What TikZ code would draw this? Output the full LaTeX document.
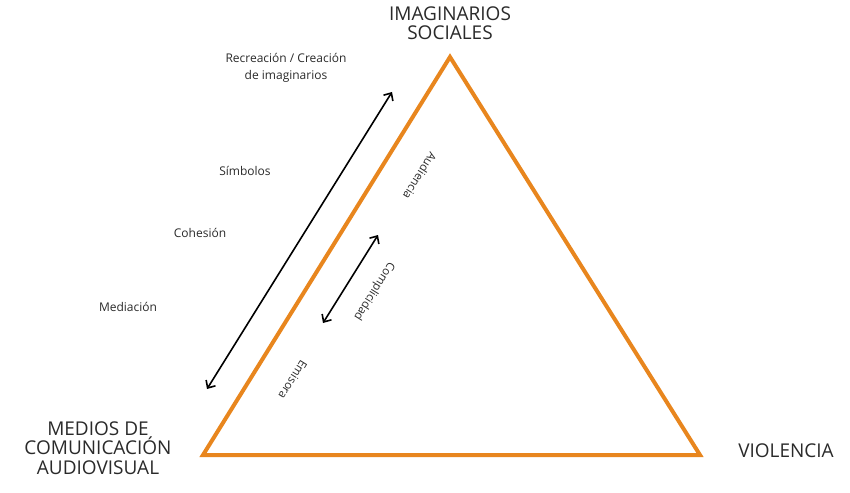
\documentclass[tikz,border=0pt]{standalone}
\usepackage{fontspec}
\setmainfont{Open Sans}
\usetikzlibrary{arrows.meta}
\definecolor{triorange}{HTML}{E8861E}
\definecolor{txtgray}{HTML}{2A2A2A}
\begin{document}
\begin{tikzpicture}[x=1pt, y=-1pt,
  every node/.style = {text=txtgray, inner sep=0pt, align=center},
  vertice/.style = {font=\fontsize{19}{19.5}\selectfont},
  etiqueta/.style = {font=\fontsize{12}{17}\selectfont},
  lado/.style = {font=\fontsize{11.5}{13}\selectfont, rotate=-121.8},
  flecha/.style = {black, line width=1.6pt, {Straight Barb[length=6pt,width=11pt]}-{Straight Barb[length=6pt,width=11pt]}}]
  \useasboundingbox (0,0) rectangle (850,492);
  % vertices del triangulo
  \coordinate (medios) at (203,455);
  \coordinate (imaginarios) at (450,57);
  \coordinate (violencia) at (700,455);
  \draw[triorange, line width=4pt, line join=miter] (medios) -- (imaginarios) -- (violencia) -- cycle;
  \node[vertice] (lblimag) at (450,23) {IMAGINARIOS\\SOCIALES};
  \node[vertice] (lblmedios) at (98,448) {MEDIOS DE\\COMUNICACIÓN\\AUDIOVISUAL};
  \node[vertice] (lblviol) at (786,451) {VIOLENCIA};
  % flechas
  \coordinate (largaA) at (207,389);
  \coordinate (largaB) at (392,92);
  \coordinate (cortaA) at (323,323);
  \coordinate (cortaB) at (378,235);
  \draw[flecha] (largaA) -- (largaB);
  \draw[flecha] (cortaA) -- (cortaB);
  % etiquetas
  \node[etiqueta] (recreacion) at (286,68) {Recreación / Creación\\de imaginarios};
  \node[etiqueta] (simbolos) at (245,171) {Símbolos};
  \node[etiqueta] (cohesion) at (200,233) {Cohesión};
  \node[etiqueta] (mediacion) at (128,307) {Mediación};
  \node[lado] (audiencia) at (420,176) {Audiencia};
  \node[lado] (complicidad) at (374,291) {Complicidad};
  \node[lado] (emisora) at (293,380) {Emisora};
\end{tikzpicture}
\end{document}
